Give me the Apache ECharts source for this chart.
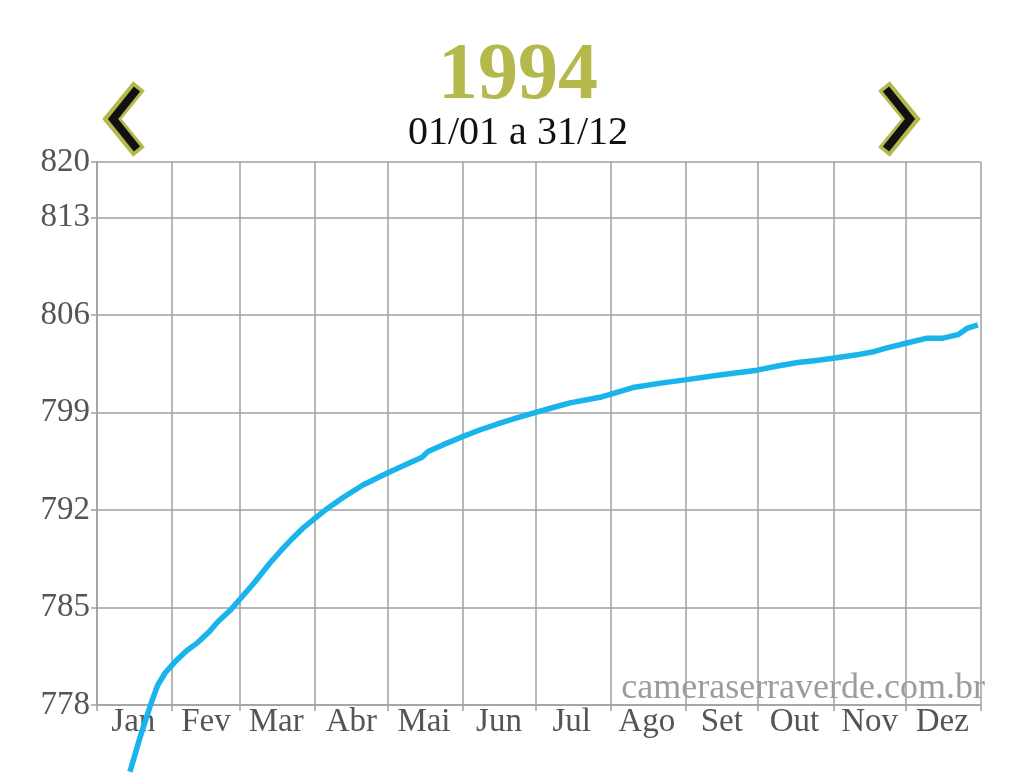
<!DOCTYPE html>
<html>
<head>
<meta charset="utf-8">
<script src="https://cdn.jsdelivr.net/npm/echarts@6/dist/echarts.min.js"></script>
<style>
  html, body { margin: 0; padding: 0; background: #ffffff; }
  #chart { width: 1024px; height: 781px; }
</style>
</head>
<body>
<div id="chart"></div>
<script>
// ---- data ----
const months = ['Jan', 'Fev', 'Mar', 'Abr', 'Mai', 'Jun', 'Jul', 'Ago', 'Set', 'Out', 'Nov', 'Dez'];
const monthDays = [31, 28, 31, 30, 31, 30, 31, 31, 30, 31, 30, 31];
const dayOfYear = [13.6, 18, 21.9, 25, 28.1, 32.2, 37, 41.7, 46, 50, 55, 59, 65, 71.4, 76, 80.9, 85, 89.2, 95, 101.6,
  109.8, 119.7, 129.2, 134.2, 136.7, 143, 149.9, 158, 166.4, 173, 180.8, 188, 195.3, 207.7, 221.3, 232, 242.8,
  257, 272.5, 281, 289.4, 297, 303.9, 313.8, 320, 326.2, 334.4, 342.7, 349.3, 355.5, 359.2, 363.7];
const level = [773.2, 775.8, 777.9, 779.4, 780.3, 781.1, 781.9, 782.5, 783.2, 784.0, 784.8, 785.6, 786.8, 788.2, 789.1, 790.0, 790.7, 791.3, 792.1, 792.9,
  793.8, 794.65, 795.4, 795.8, 796.2, 796.7, 797.2, 797.75, 798.25, 798.6, 799.0, 799.35, 799.7, 800.1, 800.8, 801.1, 801.35,
  801.7, 802.05, 802.35, 802.6, 802.75, 802.9, 803.15, 803.35, 803.65, 804.0, 804.35, 804.35, 804.6, 805.05, 805.3];
const yTicks = [778, 785, 792, 799, 806, 813, 817];
const yTickLabels = ['778', '785', '792', '799', '806', '813', '820'];
const titleText = '1994';
const subtitleText = '01/01 a 31/12';
const watermark = 'cameraserraverde.com.br';

// ---- build helpers ----
const monthStarts = [0];
monthDays.forEach(d => monthStarts.push(monthStarts[monthStarts.length - 1] + d));
const totalDays = monthStarts[monthStarts.length - 1];
const dayCats = new Array(totalDays + 1).fill('');
months.forEach((m, i) => { dayCats[monthStarts[i] + Math.floor(monthDays[i] / 2)] = m; });
const isMonthStart = (idx) => monthStarts.indexOf(idx) >= 0;
const seriesData = dayOfYear.map((d, i) => [d, level[i]]);

const serif = 'Liberation Serif';
const gridColor = '#a0a0a0';
const olive = '#b5b94b';

const chart = echarts.init(document.getElementById('chart'), null, { renderer: 'canvas' });
chart.setOption({
  backgroundColor: '#ffffff',
  animation: false,
  grid: { left: 97, right: 43, top: 162, bottom: 76, containLabel: false },
  xAxis: [
    {
      type: 'category',
      data: dayCats,
      boundaryGap: false,
      axisLine: { show: true, lineStyle: { color: gridColor, width: 1.5 } },
      axisTick: { show: true, interval: (i) => isMonthStart(i), length: 6, lineStyle: { color: gridColor, width: 1.5 } },
      axisLabel: {
        interval: (i, v) => v !== '',
        margin: 1,
        fontFamily: serif, fontSize: 33, color: '#555555'
      },
      splitLine: { show: true, interval: (i) => isMonthStart(i), lineStyle: { color: gridColor, width: 1.5 } }
    },
    {
      type: 'value',
      min: 0, max: totalDays,
      show: false
    }
  ],
  yAxis: {
    type: 'value',
    min: yTicks[0],
    max: yTicks[yTicks.length - 1],
    interval: 7,
    axisLine: { show: true, lineStyle: { color: gridColor, width: 1.5 } },
    axisTick: { show: true, length: 6, lineStyle: { color: gridColor, width: 1.5 } },
    axisLabel: {
      margin: 7,
      fontFamily: serif, fontSize: 33, color: '#555555',
      formatter: (v) => { const k = yTicks.indexOf(v); return k >= 0 ? yTickLabels[k] : String(v); }
    },
    splitLine: { show: true, lineStyle: { color: gridColor, width: 1.5 } }
  },
  graphic: [
    { type: 'text', z: 10, style: { x: 518, y: 77, text: titleText, font: 'bold 80px "Liberation Serif"', fill: olive, align: 'center', verticalAlign: 'middle' } },
    { type: 'text', z: 10, style: { x: 518, y: 133, text: subtitleText, font: '40px "Liberation Serif"', fill: '#111111', align: 'center', verticalAlign: 'middle' } },
    { type: 'text', z: -1, style: { x: 985, y: 689, text: watermark, font: '36px "Liberation Serif"', fill: '#9c9c9c', align: 'right', verticalAlign: 'middle' } },
    { type: 'polyline', z: 10, shape: { points: [[139, 86], [112, 119], [139, 152]] }, style: { stroke: olive, lineWidth: 15, fill: null, lineJoin: 'miter', lineCap: 'butt' } },
    { type: 'polyline', z: 11, shape: { points: [[137, 89], [113, 119], [137, 149]] }, style: { stroke: '#111111', lineWidth: 8, fill: null, lineJoin: 'miter', lineCap: 'butt' } },
    { type: 'polyline', z: 10, shape: { points: [[884, 86], [911, 119], [884, 152]] }, style: { stroke: olive, lineWidth: 15, fill: null, lineJoin: 'miter', lineCap: 'butt' } },
    { type: 'polyline', z: 11, shape: { points: [[886, 89], [910, 119], [886, 149]] }, style: { stroke: '#111111', lineWidth: 8, fill: null, lineJoin: 'miter', lineCap: 'butt' } }
  ],
  series: [{
    type: 'line',
    xAxisIndex: 1,
    data: seriesData,
    showSymbol: false,
    clip: false,
    smooth: false,
    lineStyle: { color: '#19b4ec', width: 5.5, join: 'round', cap: 'butt' },
    z: 5
  }]
});
</script>
</body>
</html>
